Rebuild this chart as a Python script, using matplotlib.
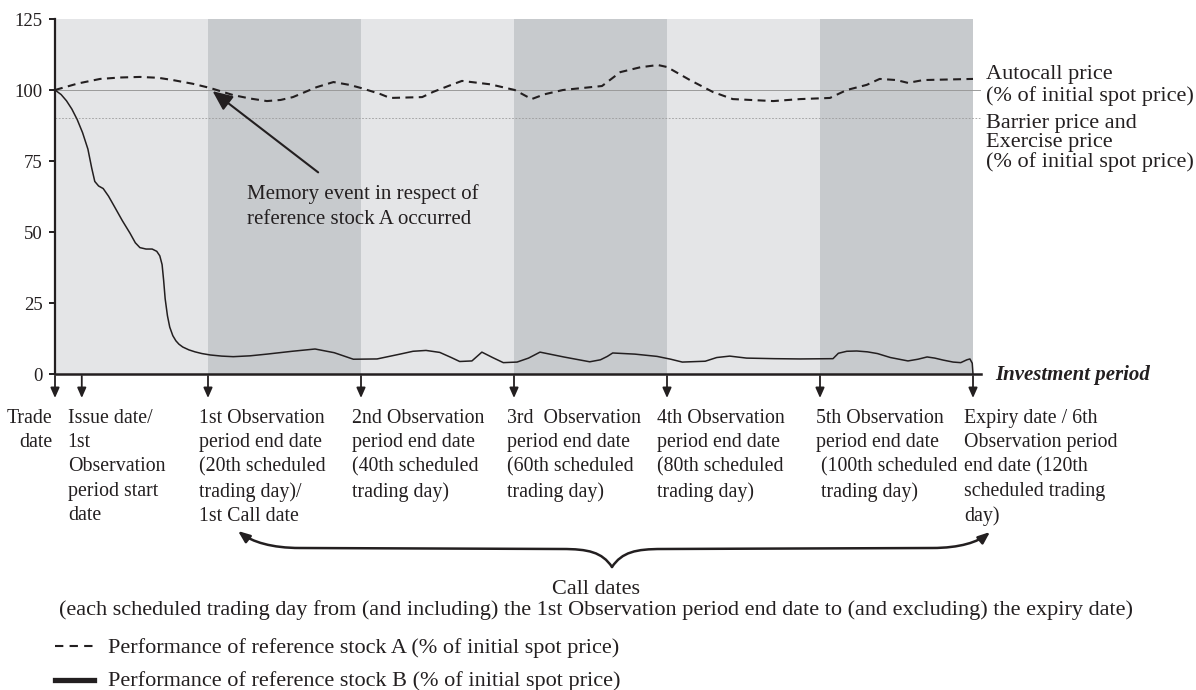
import matplotlib
matplotlib.use('Agg')
import matplotlib.pyplot as plt
import matplotlib.transforms as mtransforms
from matplotlib.path import Path
from matplotlib.patches import FancyArrowPatch
from matplotlib.lines import Line2D

plt.rcParams['font.family'] = ['Liberation Serif', 'DejaVu Serif']

W, H = 1196, 690
INK = '#231f20'

# performance of reference stock A (% of initial spot price), x in scheduled trading days
xa = [0, 3, 5.9, 8.5, 11.1, 13.5, 15.4, 18, 20.3, 23.3, 25.5, 27.7, 29.5, 31.1, 34.2, 36.4,
      38.5, 40, 42.5, 43.8, 48, 49.4, 51.5, 53.2, 56.9, 60.1, 62.3, 64, 66.4, 71.5, 73.9,
      76.5, 78.8, 80, 83, 86, 88.6, 93.9, 97.4, 101.3, 103.5, 106.1, 107.8, 110, 111.5,
      113.5, 120]
ya = [100, 102.3, 103.9, 104.4, 104.6, 104.3, 103.5, 102.2, 100.7, 98.2, 97, 96.1, 96.5,
      97.5, 101, 102.8, 101.8, 100.7, 98.6, 97.2, 97.5, 99.3, 101.5, 103.2, 102, 100, 96.8,
      98.5, 100, 101.4, 106.3, 108, 108.8, 108.1, 103.5, 99.3, 96.8, 96.1, 96.8, 97.2, 100,
      101.8, 103.9, 103.5, 102.5, 103.5, 103.9]

# performance of reference stock B
xb = [0, 0.8, 1.5, 2.2, 2.9, 3.6, 4.3, 4.8, 5.2, 5.7, 6.3, 7.0, 7.8, 8.8, 9.8, 10.5, 11.1,
      11.9, 12.7, 13.3, 13.7, 14.0, 14.2, 14.4, 14.7, 15.0, 15.4, 15.8, 16.2, 16.7, 17.5,
      18.3, 19.2, 20.3, 21.8, 23.3, 25.5, 27.7, 31, 34, 36.5, 39, 42.1, 45.1, 46.8, 48.5,
      50.3, 51.8, 52.9, 54.5, 55.8, 57.2, 58.6, 60.4, 61.9, 63.4, 66.5, 69.9, 71.3, 72.2,
      72.9, 75.8, 78.7, 80.5, 82, 85, 86.5, 88.2, 90.4, 94, 97.4, 101.7, 102.4, 103.5, 104.8,
      106.2, 107.5, 109.2, 111.5, 112.8, 114, 115, 116.1, 117.4, 118.4, 119.2, 119.6, 119.9,
      120]
yb = [100, 98.4, 96.2, 93.3, 89.6, 85, 79.2, 72.5, 67.8, 66.2, 65.3, 62.6, 58.8, 54, 49.6,
      46.2, 44.5, 44, 44, 43.2, 41.6, 38.5, 33, 26.5, 20.5, 16.5, 13.5, 11.7, 10.5, 9.5, 8.5,
      7.8, 7.2, 6.7, 6.3, 6.1, 6.4, 7.0, 8.0, 8.8, 7.5, 5.2, 5.3, 7.0, 8.0, 8.3, 7.6, 5.8,
      4.4, 4.6, 7.7, 5.8, 4.0, 4.2, 5.6, 7.7, 6.0, 4.3, 5.0, 6.2, 7.4, 7.0, 6.2, 5.2, 4.2,
      4.5, 5.8, 6.3, 5.6, 5.4, 5.3, 5.4, 7.3, 8.0, 8.1, 7.8, 7.2, 5.8, 4.6, 5.2, 6.0, 5.6,
      4.9, 4.2, 4.0, 5.0, 5.3, 3.8, 0]

autocall_level = 100
barrier_level = 90
period_edges = [0, 20, 40, 60, 80, 100, 120]
period_colors = ['#e4e5e7', '#c7cacd', '#e4e5e7', '#c7cacd', '#e4e5e7', '#c7cacd']

date_x = [0, 3.5, 20, 40, 60, 80, 100, 120]
date_labels = [
    'Trade\ndate',
    'Issue date/\n1st\nObservation\nperiod start\ndate',
    '1st Observation\nperiod end date\n(20th scheduled\ntrading day)/\n1st Call date',
    '2nd Observation\nperiod end date\n(40th scheduled\ntrading day)',
    '3rd  Observation\nperiod end date\n(60th scheduled\ntrading day)',
    '4th Observation\nperiod end date\n(80th scheduled\ntrading day)',
    '5th Observation\nperiod end date\n (100th scheduled\n trading day)',
    'Expiry date / 6th\nObservation period\nend date (120th\nscheduled trading\nday)',
]
date_ha = ['right', 'left', 'left', 'left', 'left', 'left', 'left', 'left']
date_dx = [-3, -14, -9, -9, -7, -10, -4, -9]

fig = plt.figure(figsize=(W / 100, H / 100), dpi=100)
ax = fig.add_axes([55 / W, 1 - 374 / H, 925.65 / W, 355 / H])
ax.set_xlim(0, 121)
ax.set_ylim(0, 125)

# pixel coords measured from the top-left of the figure
pix = mtransforms.Affine2D().scale(1, -1).translate(0, H)
xpix = mtransforms.blended_transform_factory(ax.transData, pix)

for i in range(len(period_colors)):
    ax.axvspan(period_edges[i], period_edges[i + 1], color=period_colors[i], lw=0, zorder=0)

ax.axhline(autocall_level, color='#9a9a9a', lw=0.7, zorder=1)
ax.axhline(barrier_level, color='#9a9a9a', lw=0.6, ls=(0, (2, 2)), zorder=1)

ax.plot(xa, ya, color=INK, lw=1.5, dashes=(3.8, 2.6), zorder=3)
ax.plot(xb, yb, color=INK, lw=1.1, zorder=3)

for s in ['top', 'right']:
    ax.spines[s].set_visible(False)
ax.spines['left'].set_linewidth(1.6)
ax.spines['bottom'].set_linewidth(1.8)
ax.spines['left'].set_color(INK)
ax.spines['bottom'].set_color(INK)
ax.set_xticks([])
ax.set_yticks([0, 25, 50, 75, 100, 125])
ax.tick_params(axis='y', direction='out', length=4, width=1.4, color=INK, pad=5,
               labelsize=13.5, labelcolor=INK)

# memory event
ax.annotate('', xy=(20.6, 99.6), xytext=(34.4, 71),
            arrowprops=dict(arrowstyle='-|>,head_length=0.5,head_width=0.22', mutation_scale=24,
                            lw=1.5, color=INK, shrinkA=0, shrinkB=0))
ax.text(25.1, 59.0, 'Memory event in respect of\nreference stock A occurred',
        fontsize=15, color=INK, ha='left', va='center', linespacing=1.38)

# right-hand labels
fig.text(986, 85.5, 'Autocall price\n(% of initial spot price)', transform=pix,
         fontsize=16, color=INK, ha='left', va='center', linespacing=1.13)
fig.text(986, 143, 'Barrier price and\nExercise price\n(% of initial spot price)', transform=pix,
         fontsize=16, color=INK, ha='left', va='center', linespacing=0.97)
fig.text(995, 375, 'Investment period', transform=pix, fontsize=15, color=INK,
         fontweight='bold', fontstyle='italic', ha='left', va='center')

# date arrows and labels
for x, lab, ha, dx in zip(date_x, date_labels, date_ha, date_dx):
    ax.annotate('', xy=(x, 398), xycoords=xpix, xytext=(x, 376), textcoords=xpix,
                arrowprops=dict(arrowstyle='-|>,head_length=0.5,head_width=0.22', mutation_scale=12,
                                lw=1.3, color=INK, shrinkA=0, shrinkB=0),
                annotation_clip=False)
    tr = xpix + mtransforms.Affine2D().translate(dx, 0)
    fig.text(x, 409, lab, transform=tr, fontsize=14.3, color=INK, ha=ha, va='top',
             multialignment=ha, linespacing=1.37)

# call dates brace
left_half = Path([(612, 567), (602, 552), (588, 549), (562, 549), (300, 548),
                  (272, 548), (252, 542), (238, 531)],
                 [Path.MOVETO, Path.CURVE4, Path.CURVE4, Path.CURVE4, Path.LINETO,
                  Path.CURVE4, Path.CURVE4, Path.CURVE4])
right_half = Path([(612, 567), (622, 552), (636, 549), (662, 549), (932, 548),
                   (960, 548), (978, 542), (990, 532)],
                  [Path.MOVETO, Path.CURVE4, Path.CURVE4, Path.CURVE4, Path.LINETO,
                   Path.CURVE4, Path.CURVE4, Path.CURVE4])
for p in [left_half, right_half]:
    fig.add_artist(FancyArrowPatch(path=p, transform=pix,
                                   arrowstyle='-|>,head_length=0.5,head_width=0.2',
                                   mutation_scale=14, lw=1.8, color=INK))

fig.text(596, 600, 'Call dates\n(each scheduled trading day from (and including) the 1st Observation '
         'period end date to (and excluding) the expiry date)', transform=pix, fontsize=16,
         color=INK, ha='center', va='center', multialignment='center', linespacing=1.08)

# legend
fig.add_artist(Line2D([55, 94], [646, 646], transform=pix, color=INK, lw=1.5, dashes=(4, 3)))
fig.add_artist(Line2D([55, 94], [680, 680], transform=pix, color=INK, lw=3.8))
fig.text(108, 648, 'Performance of reference stock A (% of initial spot price)', transform=pix,
         fontsize=16, color=INK, ha='left', va='center')
fig.text(108, 681, 'Performance of reference stock B (% of initial spot price)', transform=pix,
         fontsize=16, color=INK, ha='left', va='center')

fig.savefig('out.png', dpi=100)
